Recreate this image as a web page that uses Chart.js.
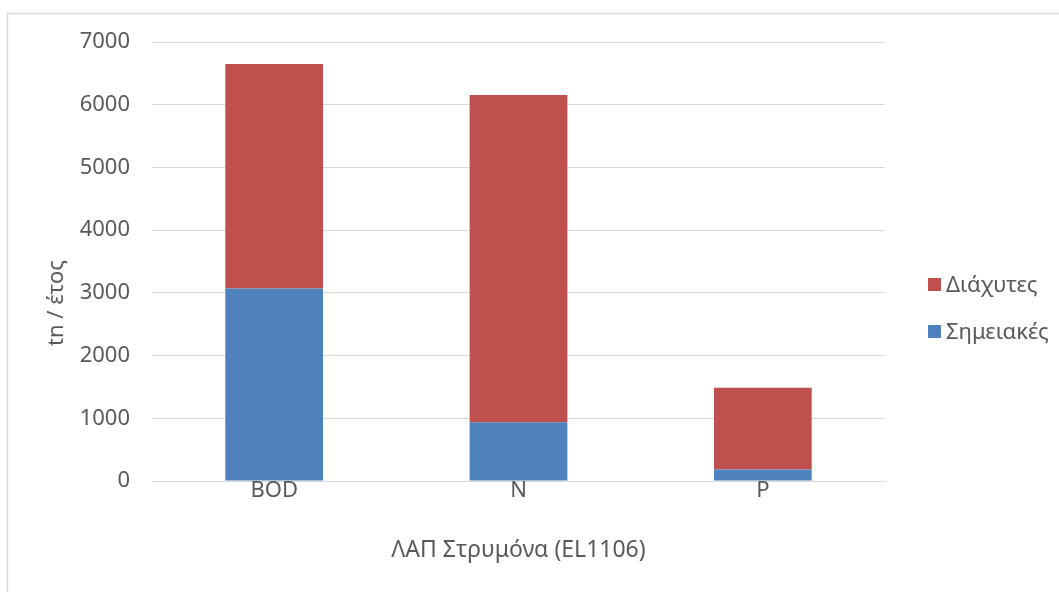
<!DOCTYPE html>
<html>
<head>
<meta charset="utf-8">
<script src="https://cdn.jsdelivr.net/npm/chart.js@4"></script>
<style>
  html, body { margin: 0; padding: 0; background: #ffffff; }
  #wrap { width: 1059px; height: 592px; position: relative; }
</style>
</head>
<body>
<div id="wrap"><canvas id="chart"></canvas></div>
<script>
// Annual pollution loads (tn / έτος) for ΛΑΠ Στρυμόνα (EL1106)
const categories = ['BOD', 'N', 'P'];
const pointLoads = [3070, 935, 185];      // Σημειακές
const diffuseLoads = [3580, 5220, 1300];  // Διάχυτες
const yTicks = [0, 1000, 2000, 3000, 4000, 5000, 6000, 7000];
const yTitle = 'tn / έτος';
const xTitle = 'ΛΑΠ Στρυμόνα (EL1106)';

const TEXT = '#595959';
const GRID = '#d9d9d9';
const FONT = "'Noto Sans', sans-serif";
const SIZE = 22;

// Light frame around the chart area
const framePlugin = {
  id: 'frame',
  beforeDraw(chart) {
    const ctx = chart.ctx;
    ctx.save();
    ctx.fillStyle = '#ffffff';
    ctx.fillRect(0, 0, chart.width, chart.height);
    ctx.strokeStyle = GRID;
    ctx.lineWidth = 1.5;
    ctx.strokeRect(7.5, 13.5, 2000, 2000);
    ctx.restore();
  }
};

// Vertical axis title, set a little below the axis middle
const yTitlePlugin = {
  id: 'yTitle',
  afterDraw(chart) {
    const ctx = chart.ctx;
    ctx.save();
    ctx.translate(57, 303);
    ctx.rotate(-Math.PI / 2);
    ctx.font = SIZE + 'px ' + FONT;
    ctx.fillStyle = TEXT;
    ctx.textAlign = 'center';
    ctx.textBaseline = 'middle';
    ctx.fillText(yTitle, 0, 0);
    ctx.restore();
  }
};

// Legend on the right, last series on top
const sideLegend = {
  id: 'sideLegend',
  afterDraw(chart) {
    const ctx = chart.ctx;
    const items = chart.data.datasets.slice().reverse();
    const x = 928, y0 = 284.5, step = 47, box = 13;
    ctx.save();
    ctx.font = SIZE + 'px ' + FONT;
    ctx.textBaseline = 'middle';
    ctx.textAlign = 'left';
    items.forEach((ds, i) => {
      const cy = y0 + i * step;
      ctx.fillStyle = ds.backgroundColor;
      ctx.fillRect(x, cy - box / 2, box, box);
      ctx.fillStyle = TEXT;
      ctx.fillText(ds.label, x + box + 5, cy + 1);
    });
    ctx.restore();
  }
};

new Chart(document.getElementById('chart'), {
  type: 'bar',
  data: {
    labels: categories,
    datasets: [
      { label: 'Σημειακές', data: pointLoads, backgroundColor: '#4F81BD' },
      { label: 'Διάχυτες', data: diffuseLoads, backgroundColor: '#C0504D' }
    ]
  },
  options: {
    responsive: true,
    maintainAspectRatio: false,
    animation: false,
    devicePixelRatio: 1,
    layout: { padding: { left: 10, right: 174, top: 42, bottom: 21 } },
    datasets: { bar: { categoryPercentage: 1, barPercentage: 0.4 } },
    plugins: { legend: { display: false }, tooltip: { enabled: false } },
    scales: {
      x: {
        stacked: true,
        grid: { display: false, drawTicks: false },
        border: { display: true, color: GRID, width: 1 },
        ticks: { color: TEXT, font: { family: FONT, size: SIZE }, padding: -3 },
        title: {
          display: true, text: xTitle, color: TEXT,
          font: { family: FONT, size: 23 }, padding: { top: 0, bottom: 7 }
        },
        afterFit(scale) { scale.height = 90; }
      },
      y: {
        stacked: true,
        min: 0, max: 7000,
        afterBuildTicks(scale) { scale.ticks = yTicks.map(v => ({ value: v })); },
        grid: { color: GRID, lineWidth: 1, drawTicks: false },
        border: { display: false },
        ticks: {
          color: TEXT, font: { family: FONT, size: SIZE }, padding: 22,
          callback: (v) => String(v)
        },
        title: { display: false },
        afterFit(scale) { scale.width = 142; }
      }
    }
  },
  plugins: [framePlugin, yTitlePlugin, sideLegend]
});
</script>
</body>
</html>
